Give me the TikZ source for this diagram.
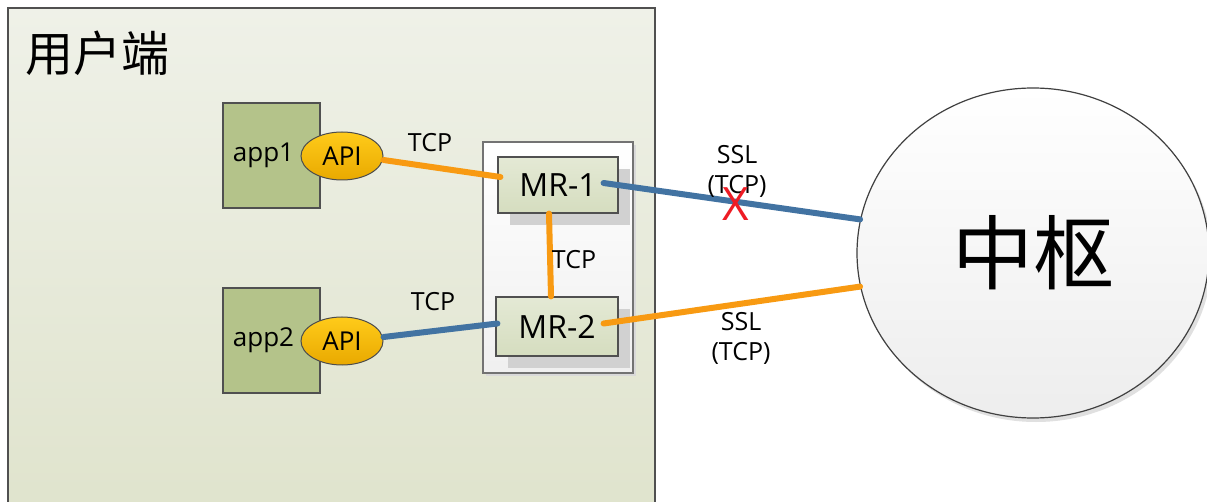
\documentclass[tikz,border=0pt]{standalone}
\usepackage{fontspec}
\setmainfont{Open Sans}
\newfontfamily\cjk{Noto Sans CJK SC}
\usetikzlibrary{shapes.geometric,shadows,calc}

\definecolor{userTop}{HTML}{EFF1E8}
\definecolor{userBot}{HTML}{DFE3CC}
\definecolor{appFill}{HTML}{B4C38A}
\definecolor{apiTop}{HTML}{FFCB1A}
\definecolor{apiBot}{HTML}{E9A900}
\definecolor{mrTop}{HTML}{E4E9D5}
\definecolor{mrBot}{HTML}{D5DDBF}
\definecolor{linkOrange}{HTML}{F89A12}
\definecolor{linkBlue}{HTML}{4273A2}
\definecolor{edgeGray}{HTML}{505050}
\definecolor{crossRed}{HTML}{EE1C24}

\tikzset{
  appbox/.style={draw=edgeGray, line width=1.2pt, fill=appFill,
    minimum width=97pt, minimum height=105pt, inner sep=0pt},
  apinode/.style={ellipse, draw=black!70, line width=1pt,
    top color=apiTop, bottom color=apiBot,
    minimum width=82pt, minimum height=48pt, inner sep=0pt,
    font=\fontsize{26}{30}\selectfont},
  mrbox/.style={draw=edgeGray, line width=1.2pt, top color=mrTop, bottom color=mrBot,
    minimum width=120pt, minimum height=56pt, inner sep=0pt,
    font=\fontsize{32}{36}\selectfont,
    drop shadow={shadow xshift=12pt, shadow yshift=-12pt, fill=black!18, opacity=1}},
  tcplabel/.style={font=\fontsize{25}{30}\selectfont, inner sep=0pt},
  ssllabel/.style={font=\fontsize{25}{30}\selectfont, align=center, inner sep=0pt},
  orangelink/.style={draw=linkOrange, line width=6pt, line cap=round},
  bluelink/.style={draw=linkBlue, line width=6pt, line cap=round},
}

\begin{document}
\begin{tikzpicture}[x=1pt, y=-1pt]
\useasboundingbox (0,0) rectangle (1207,502);
\fill[white] (0,0) rectangle (1207,502);

% client side area
\node[draw=edgeGray, line width=1.5pt, top color=userTop, bottom color=userBot,
  minimum width=647pt, minimum height=520pt, inner sep=0pt] (user) at (331.5,268) {};
\node[font=\cjk\fontsize{48}{52}\selectfont, anchor=west, inner sep=0pt] (title) at (25,53) {用户端};

% applications with their API endpoints
\node[appbox, label={[font=\fontsize{26}{30}\selectfont, xshift=-8pt]center:app1}] (app1) at (271.5,155.5) {};
\node[appbox, label={[font=\fontsize{26}{30}\selectfont, xshift=-8pt]center:app2}] (app2) at (271.5,340.5) {};
\node[apinode] (api1) at (342,156) {API};
\node[apinode] (api2) at (342,341) {API};

% MR group
\node[draw=black!55, line width=1.2pt, top color=white, bottom color=black!6,
  minimum width=150pt, minimum height=231pt, inner sep=0pt,
  drop shadow={shadow xshift=3pt, shadow yshift=-3pt, fill=black!15, opacity=1}] (group) at (558,257.5) {};
\node[mrbox] (mr1) at (558,185) {MR-1};
\node[mrbox, minimum width=122pt, minimum height=59pt] (mr2) at (557,326.5) {MR-2};

% hub
\node[ellipse, draw=black!75, line width=1.2pt, top color=white, bottom color=black!7,
  minimum width=352pt, minimum height=330pt, inner sep=0pt,
  font=\cjk\fontsize{81}{90}\selectfont,
  drop shadow={shadow xshift=3pt, shadow yshift=-4pt, fill=black!12, opacity=1}] (hub) at (1033,253) {中枢};

% links
\draw[orangelink] ([yshift=-4pt]api1.east) -- ([xshift=3pt, yshift=8pt]mr1.west);
\draw[orangelink] ([xshift=-9pt]mr1.south) -- ([xshift=-6pt]mr2.north);
\draw[bluelink] ([yshift=4pt]api2.east) -- ([xshift=2pt, yshift=3pt]mr2.west);
\draw[bluelink] ([xshift=-15pt, yshift=2pt]mr1.east) -- (hub.169);
\draw[orangelink] ([xshift=-15pt, yshift=3pt]mr2.east) -- (hub.191);

% link labels
\node[tcplabel] (tcp1) at (430,143) {TCP};
\node[tcplabel] (tcp2) at (433,302) {TCP};
\node[tcplabel] (tcp3) at (574,260) {TCP};
\node[ssllabel] (ssl1) at (737,171) {SSL\\(TCP)};
\node[ssllabel] (ssl2) at (741,338) {SSL\\(TCP)};
\node[font=\fontsize{46}{50}\selectfont, text=crossRed, inner sep=0pt] (cross) at (736,204) {X};
\end{tikzpicture}
\end{document}
